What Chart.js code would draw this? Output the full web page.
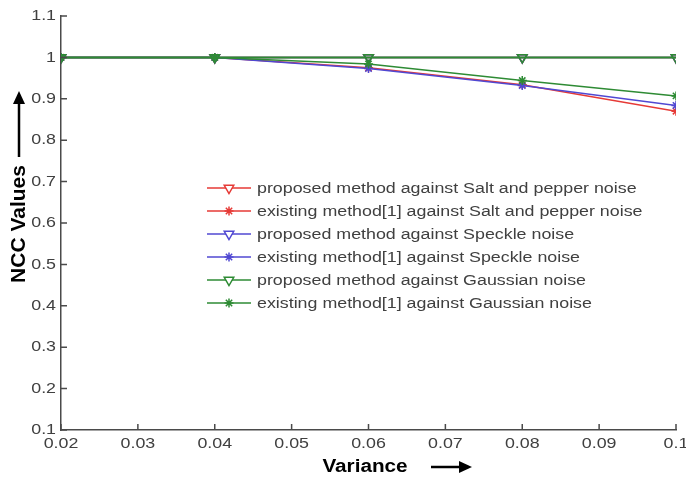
<!DOCTYPE html>
<html lang="en">
  <head>
    <meta charset="UTF-8" />
    <title>NCC Values vs Variance</title>
    <script src="https://cdn.jsdelivr.net/npm/chart.js@4.4.1/dist/chart.umd.min.js"></script>
    <style>
      html, body {
        margin: 0;
        padding: 0;
        background: #fff;
      }
      #wrap {
        width: 686px;
        height: 480px;
      }
    </style>
  </head>

  <body>
    <div id="wrap">
      <canvas id="chart" width="686" height="480"></canvas>
    </div>
  </body>

  <script>
    // data
    const variance = [0.02, 0.04, 0.06, 0.08, 0.1];
    const proposedSaltPepper = [1, 1, 1, 1, 1];
    const existingSaltPepper = [1, 1, 0.975, 0.934, 0.87];
    const proposedSpeckle = [1, 1, 1, 1, 1];
    const existingSpeckle = [1, 1, 0.973, 0.932, 0.884];
    const proposedGaussian = [1, 1, 1, 1, 1];
    const existingGaussian = [1, 1, 0.984, 0.944, 0.907];

    const seriesNames = [
      "proposed method against Salt and pepper noise",
      "existing method[1] against Salt and pepper noise",
      "proposed method against Speckle noise",
      "existing method[1] against Speckle noise",
      "proposed method against Gaussian noise",
      "existing method[1] against Gaussian noise",
    ];

    const RED = "#e63a36";
    const BLUE = "#5048d2";
    const GREEN = "#2e8b34";
    const TEXT = "#404040";
    const AXIS = "#4a4a4a";
    const FONT = "'Liberation Sans', Arial, sans-serif";
    const STRETCH = 1.15; // the source figure's text is a bit wide

    function toPoints(ys) {
      return variance.map((x, i) => ({ x: x, y: ys[i] }));
    }

    function makeSet(label, ys, color, proposed, order) {
      return {
        label: label,
        data: toPoints(ys),
        borderColor: color,
        backgroundColor: proposed ? "rgba(255,255,255,0)" : color,
        borderWidth: color === GREEN && proposed ? 2 : 1.5,
        pointStyle: proposed ? "triangle" : "star",
        rotation: proposed ? 180 : 0,
        pointRadius: proposed ? 5.5 : 4.5,
        pointBorderWidth: 1.5,
        pointBorderColor: color,
        tension: 0,
        order: order,
      };
    }

    const datasets = [
      makeSet(seriesNames[0], proposedSaltPepper, RED, true, 5),
      makeSet(seriesNames[1], existingSaltPepper, RED, false, 4),
      makeSet(seriesNames[2], proposedSpeckle, BLUE, true, 3),
      makeSet(seriesNames[3], existingSpeckle, BLUE, false, 2),
      makeSet(seriesNames[4], proposedGaussian, GREEN, true, 1),
      makeSet(seriesNames[5], existingGaussian, GREEN, false, 0),
    ];

    function arrow(ctx, x1, y1, x2, y2) {
      const ang = Math.atan2(y2 - y1, x2 - x1);
      const head = 13;
      const half = 6;
      ctx.save();
      ctx.strokeStyle = "#000";
      ctx.fillStyle = "#000";
      ctx.lineWidth = 2.5;
      ctx.beginPath();
      ctx.moveTo(x1, y1);
      ctx.lineTo(x2 - head * Math.cos(ang), y2 - head * Math.sin(ang));
      ctx.stroke();
      ctx.beginPath();
      ctx.moveTo(x2, y2);
      ctx.lineTo(
        x2 - head * Math.cos(ang) + half * Math.sin(ang),
        y2 - head * Math.sin(ang) - half * Math.cos(ang)
      );
      ctx.lineTo(
        x2 - head * Math.cos(ang) - half * Math.sin(ang),
        y2 - head * Math.sin(ang) + half * Math.cos(ang)
      );
      ctx.closePath();
      ctx.fill();
      ctx.restore();
    }

    function wideText(ctx, text, x, y, align) {
      ctx.save();
      ctx.translate(x, y);
      ctx.scale(STRETCH, 1);
      ctx.textAlign = align;
      ctx.fillText(text, 0, 0);
      ctx.restore();
    }

    function fmt(v) {
      return String(parseFloat(v.toFixed(3)));
    }

    // matlab style: inward ticks, tick labels, titles with arrows, legend inside the axes
    const matlabLook = {
      id: "matlabLook",
      afterDraw(chart) {
        const ctx = chart.ctx;
        const xs = chart.scales.x;
        const ys = chart.scales.y;
        const area = chart.chartArea;

        ctx.save();
        ctx.strokeStyle = AXIS;
        ctx.lineWidth = 1.5;
        ctx.beginPath();
        xs.ticks.forEach((t) => {
          const px = xs.getPixelForValue(t.value);
          ctx.moveTo(px, area.bottom);
          ctx.lineTo(px, area.bottom - 6);
        });
        ys.ticks.forEach((t) => {
          const py = ys.getPixelForValue(t.value);
          ctx.moveTo(area.left, py);
          ctx.lineTo(area.left + 6, py);
        });
        ctx.stroke();

        // tick labels
        ctx.fillStyle = TEXT;
        ctx.font = "15.5px " + FONT;
        ctx.textBaseline = "middle";
        xs.ticks.forEach((t) => {
          wideText(ctx, fmt(t.value), xs.getPixelForValue(t.value), 444, "center");
        });
        ys.ticks.forEach((t) => {
          wideText(ctx, fmt(t.value), area.left - 5, ys.getPixelForValue(t.value), "right");
        });

        // axis titles
        ctx.fillStyle = "#000";
        ctx.font = "bold 18px " + FONT;
        wideText(ctx, "Variance", 365, 467, "center");
        arrow(ctx, 431, 467, 472, 467);

        ctx.save();
        ctx.translate(19, 224);
        ctx.rotate(-Math.PI / 2);
        ctx.font = "bold 21px " + FONT;
        ctx.textAlign = "center";
        ctx.fillText("NCC Values", 0, 0);
        ctx.restore();
        arrow(ctx, 19, 157, 19, 91);

        // legend
        ctx.font = "15.5px " + FONT;
        chart.data.datasets.forEach((ds, i) => {
          const y = 188 + i * 23;
          ctx.strokeStyle = ds.borderColor;
          ctx.fillStyle = ds.pointStyle === "triangle" ? "#fff" : ds.borderColor;
          ctx.lineWidth = 1.5;
          ctx.beginPath();
          ctx.moveTo(207, y);
          ctx.lineTo(251, y);
          ctx.stroke();
          Chart.helpers.drawPoint(
            ctx,
            {
              pointStyle: ds.pointStyle,
              rotation: ds.rotation,
              radius: ds.pointRadius,
              borderWidth: 1.5,
            },
            229,
            y
          );
          ctx.fillStyle = TEXT;
          wideText(ctx, ds.label, 257, y + 1, "left");
        });
        ctx.restore();
      },
    };

    const config = {
      type: "line",
      data: { datasets: datasets },
      options: {
        responsive: false,
        animation: false,
        layout: { padding: { top: 16, right: 10, left: 0, bottom: 0 } },
        plugins: {
          legend: { display: false },
          tooltip: { enabled: false },
        },
        scales: {
          x: {
            type: "linear",
            min: 0.02,
            max: 0.1,
            afterFit(scale) {
              scale.height = 50;
            },
            ticks: { stepSize: 0.01, display: false },
            grid: { display: false, drawTicks: false },
            border: { display: true, color: AXIS, width: 1.5 },
          },
          y: {
            type: "linear",
            min: 0.1,
            max: 1.1,
            afterFit(scale) {
              scale.width = 61;
            },
            ticks: { stepSize: 0.1, display: false },
            grid: { display: false, drawTicks: false },
            border: { display: true, color: AXIS, width: 1.5 },
          },
        },
      },
      plugins: [matlabLook],
    };

    const chart = new Chart(document.getElementById("chart"), config);
  </script>
</html>
